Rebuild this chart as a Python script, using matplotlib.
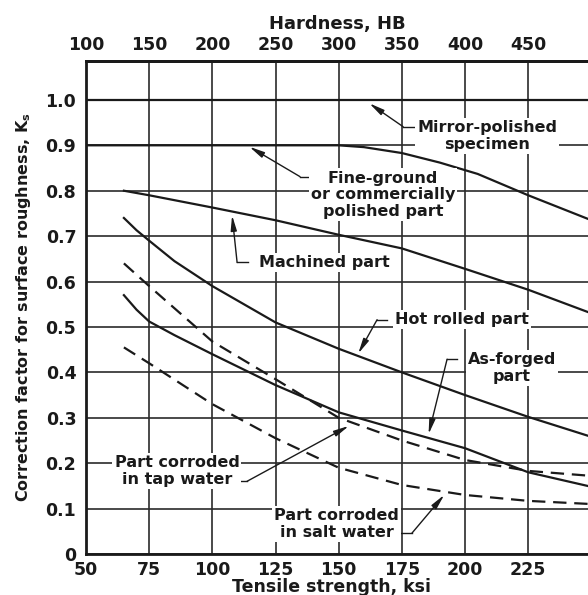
import numpy as np
import matplotlib.pyplot as plt

plt.rcParams['font.family'] = ['DejaVu Sans']
plt.rcParams['font.weight'] = 'bold'
plt.rcParams['mathtext.default'] = 'bf'

# axis ticks
tensile_ticks = [50, 75, 100, 125, 150, 175, 200, 225, 250]
tensile_labels = ['50', '75', '100', '125', '150', '175', '200', '225', '']
hardness_ticks = [100, 150, 200, 250, 300, 350, 400, 450]
k_ticks = [0, 0.1, 0.2, 0.3, 0.4, 0.5, 0.6, 0.7, 0.8, 0.9, 1.0]
k_labels = ['0', '0.1', '0.2', '0.3', '0.4', '0.5', '0.6', '0.7', '0.8', '0.9', '1.0']

# curves (tensile strength ksi -> Ks)
mirror_t = [50, 250]
mirror_k = [1.0, 1.0]
fine_t = [50, 150, 160, 175, 190, 205, 225, 250]
fine_k = [0.90, 0.90, 0.896, 0.883, 0.862, 0.837, 0.79, 0.735]
machined_t = [65, 75, 100, 125, 150, 175, 200, 225, 250]
machined_k = [0.80, 0.79, 0.763, 0.735, 0.703, 0.673, 0.628, 0.582, 0.53]
hot_t = [65, 70, 75, 85, 100, 125, 150, 175, 200, 225, 250]
hot_k = [0.74, 0.713, 0.69, 0.645, 0.59, 0.51, 0.452, 0.40, 0.35, 0.302, 0.258]
forged_t = [65, 70, 75, 85, 100, 125, 150, 175, 200, 225, 250]
forged_k = [0.57, 0.538, 0.512, 0.482, 0.44, 0.372, 0.312, 0.272, 0.233, 0.18, 0.148]
tap_t = [65, 75, 100, 125, 150, 175, 200, 225, 250]
tap_k = [0.64, 0.59, 0.468, 0.385, 0.30, 0.25, 0.207, 0.183, 0.172]
salt_t = [65, 75, 100, 125, 150, 175, 200, 225, 250]
salt_k = [0.455, 0.42, 0.33, 0.255, 0.19, 0.152, 0.13, 0.117, 0.11]

ink = '#1a1a1a'
fig = plt.figure(figsize=(5.88, 5.95), dpi=100)
ax = fig.add_axes([86/588, 41/595, 535.7/588, 493/595])
ax.set_xlim(50, 262)
ax.set_ylim(0, 1.0857)

# grid
ax.set_xticks(tensile_ticks)
ax.set_xticklabels(tensile_labels)
ax.set_yticks(k_ticks)
ax.set_yticklabels(k_labels)
ax.grid(True, color='#2b2b2b', lw=1.2, zorder=1)
ax.tick_params(length=0, labelsize=12.5, colors=ink)
ax.tick_params(axis='x', pad=5)
ax.tick_params(axis='y', pad=7)
for s in ax.spines.values():
    s.set_linewidth(2.0)
    s.set_color(ink)

top = ax.secondary_xaxis('top', functions=(lambda t: 2*t, lambda h: h/2))
top.set_xticks(hardness_ticks)
top.tick_params(length=0, labelsize=12.5, pad=5, colors=ink)
top.spines['top'].set_linewidth(2.0)
ax.text(0.469, 1.075, 'Hardness, HB', transform=ax.transAxes, ha='center',
        va='center', fontsize=13, color=ink)

ax.set_xlabel('Tensile strength, ksi', fontsize=12.5, fontweight='bold', color=ink)
ax.xaxis.set_label_coords(0.459, -0.049)
ax.set_ylabel(r'Correction factor for surface roughness, $K_s$', fontsize=11.5,
              fontweight='bold', color=ink)
ax.yaxis.set_label_coords(-0.099, 0.50)

lw = 1.6
ax.plot(mirror_t, mirror_k, color=ink, lw=lw, zorder=3)
ax.plot(fine_t, fine_k, color=ink, lw=lw, zorder=3)
ax.plot(machined_t, machined_k, color=ink, lw=lw, zorder=3)
ax.plot(hot_t, hot_k, color=ink, lw=lw, zorder=3)
ax.plot(forged_t, forged_k, color=ink, lw=lw, zorder=3)
ax.plot(tap_t, tap_k, color=ink, lw=lw, dashes=(6, 3.5), zorder=3)
ax.plot(salt_t, salt_k, color=ink, lw=lw, dashes=(6, 3.5), zorder=3)

# labels with leader lines: text, text position, leader path (last point = tip)
notes = [
    ('Mirror-polished\nspecimen', (208.7, 0.920), [(180, 0.941), (175.5, 0.941), (161.2, 0.996)]),
    ('Fine-ground\nor commercially\npolished part', (167.5, 0.791), [(138.6, 0.831), (134.7, 0.831), (113.7, 0.90)]),
    ('Machined part', (144.2, 0.642), [(114.0, 0.642), (109.8, 0.642), (107.7, 0.752)]),
    ('Hot rolled part', (198.8, 0.516), [(169.1, 0.516), (165.2, 0.516), (157.2, 0.436)]),
    ('As-forged\npart', (218.6, 0.409), [(196.8, 0.429), (192.9, 0.429), (185.3, 0.258)]),
    ('Part corroded\nin tap water', (86.0, 0.182), [(110.5, 0.160), (113.7, 0.160), (155.0, 0.285)]),
    ('Part corroded\nin salt water', (149.3, 0.066), [(174.5, 0.046), (179.0, 0.046), (192.5, 0.135)]),
]
for txt, pos, path in notes:
    ax.text(pos[0], pos[1], txt, ha='center', va='center', fontsize=11.5,
            color=ink, linespacing=1.15, zorder=5,
            bbox=dict(facecolor='white', edgecolor='none', pad=1.5))
    px = [p[0] for p in path]
    py = [p[1] for p in path]
    ax.plot(px[:-1], py[:-1], color=ink, lw=1.0, zorder=4)
    ax.annotate('', xy=path[-1], xytext=path[-2], zorder=4,
                arrowprops=dict(arrowstyle='-|>,head_length=0.9,head_width=0.18',
                                color=ink, lw=1.0, shrinkA=0, shrinkB=2))

fig.savefig('out.png', dpi=100)
